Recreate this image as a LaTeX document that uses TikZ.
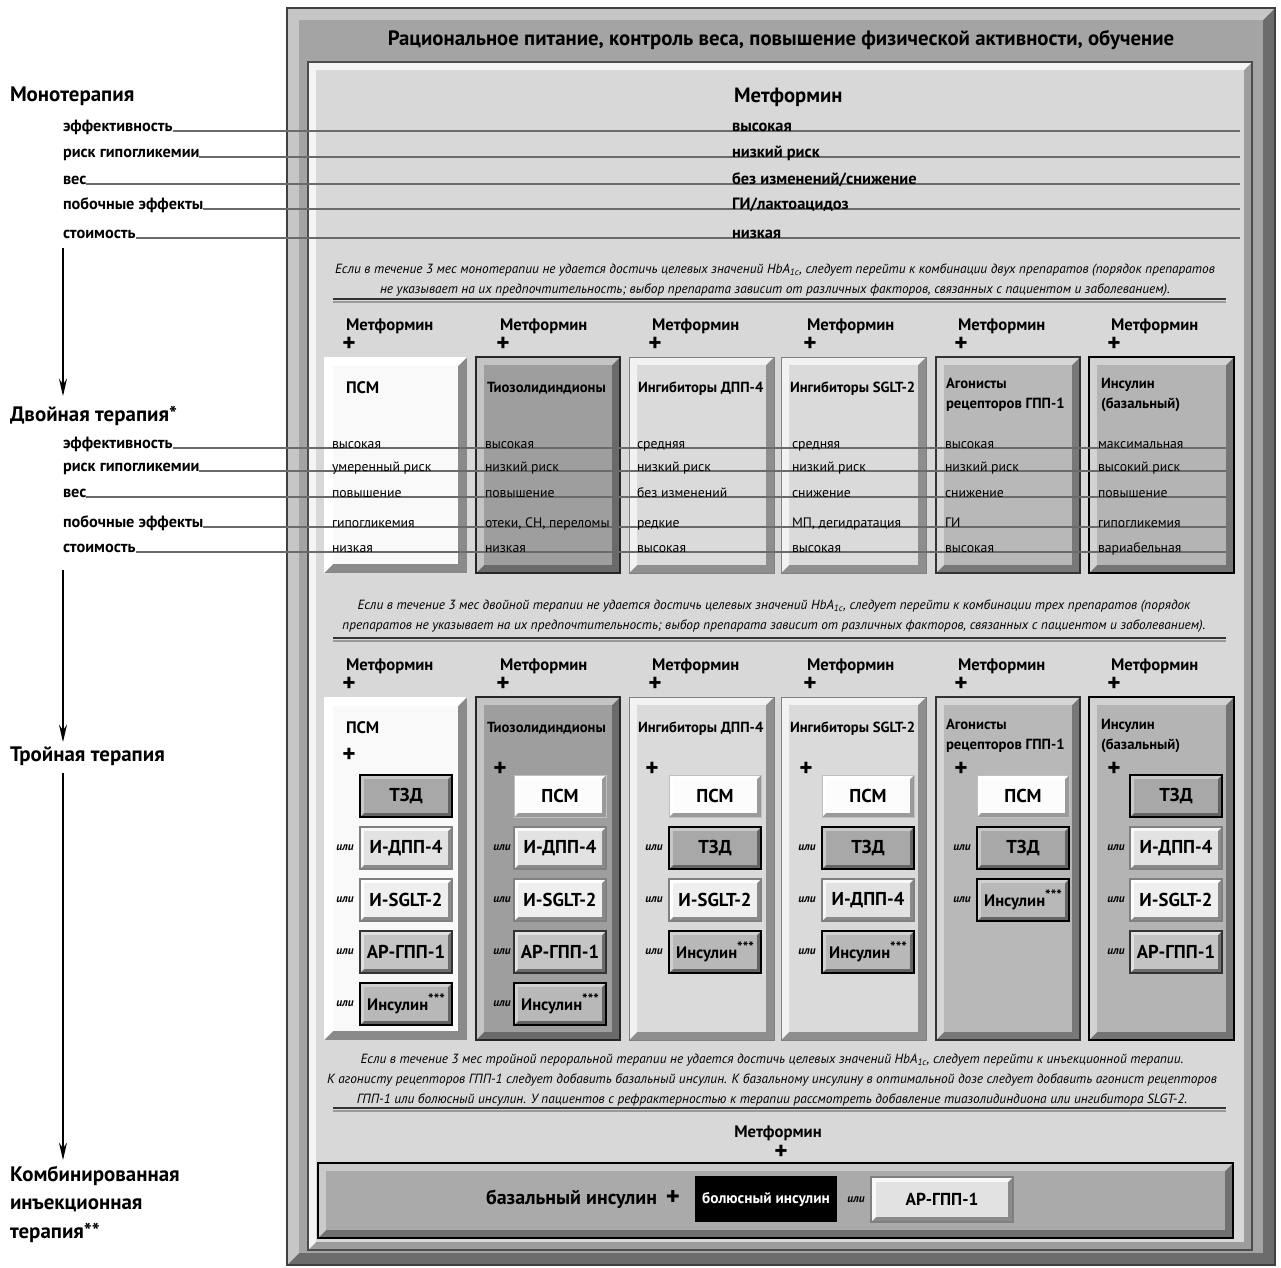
\documentclass[tikz,border=0pt]{standalone}
\usepackage{fontspec}
\setmainfont{PT Sans}
\usetikzlibrary{arrows.meta}
\pgfdeclarelayer{bg}
\pgfdeclarelayer{mid}
\pgfsetlayers{bg,mid,main}
% colour sets: B base, L light bevel, D dark bevel
\definecolor{frmB}{HTML}{A4A4A4}\definecolor{frmL}{HTML}{C6C6C6}\definecolor{frmD}{HTML}{6C6C6C}
\definecolor{panB}{HTML}{D8D8D8}\definecolor{panL}{HTML}{F4F4F4}\definecolor{panD}{HTML}{9C9C9C}
\definecolor{bpsmB}{HTML}{F9F9F9}\definecolor{bpsmL}{HTML}{FFFFFF}\definecolor{bpsmD}{HTML}{8A8A8A}
\definecolor{btzdB}{HTML}{9E9E9E}\definecolor{btzdL}{HTML}{C4C4C4}\definecolor{btzdD}{HTML}{6A6A6A}
\definecolor{bdppB}{HTML}{DADADA}\definecolor{bdppL}{HTML}{F2F2F2}\definecolor{bdppD}{HTML}{8E8E8E}
\definecolor{bglpB}{HTML}{B8B8B8}\definecolor{bglpL}{HTML}{D6D6D6}\definecolor{bglpD}{HTML}{787878}
\definecolor{binsB}{HTML}{B4B4B4}\definecolor{binsL}{HTML}{D2D2D2}\definecolor{binsD}{HTML}{747474}
\definecolor{botB}{HTML}{AAAAAA}\definecolor{botL}{HTML}{CACACA}\definecolor{botD}{HTML}{707070}
\definecolor{stzdB}{HTML}{A8A8A8}\definecolor{stzdL}{HTML}{C8C8C8}\definecolor{stzdD}{HTML}{646464}
\definecolor{spsmB}{HTML}{FCFCFC}\definecolor{spsmL}{HTML}{FFFFFF}\definecolor{spsmD}{HTML}{9A9A9A}
\definecolor{sdppB}{HTML}{E2E2E2}\definecolor{sdppL}{HTML}{F8F8F8}\definecolor{sdppD}{HTML}{8A8A8A}
\definecolor{ssglB}{HTML}{EFEFEF}\definecolor{ssglL}{HTML}{FFFFFF}\definecolor{ssglD}{HTML}{8A8A8A}
\definecolor{sglpB}{HTML}{C4C4C4}\definecolor{sglpL}{HTML}{E0E0E0}\definecolor{sglpD}{HTML}{6C6C6C}
\definecolor{sinsB}{HTML}{B8B8B8}\definecolor{sinsL}{HTML}{D0D0D0}\definecolor{sinsD}{HTML}{646464}
\definecolor{lineC}{HTML}{6A6A6A}
\tikzset{
  frmE/.style={draw=black!75,line width=1.2pt},
  panE/.style={draw=black!70,line width=1pt},
  bpsmE/.style={draw=none},
  btzdE/.style={draw=black!85,line width=1.6pt},
  bdppE/.style={draw=black!50,line width=0.7pt},
  bglpE/.style={draw=black!80,line width=1.6pt},
  binsE/.style={draw=black,line width=2pt},
  botE/.style={draw=black,line width=2pt},
  stzdE/.style={draw=black,line width=1.6pt},
  spsmE/.style={draw=black!25,line width=0.4pt},
  sdppE/.style={draw=black!50,line width=0.8pt},
  ssglE/.style={draw=black!50,line width=0.8pt},
  sglpE/.style={draw=black!80,line width=1.2pt},
  sinsE/.style={draw=black,line width=1.6pt}
}
\newcommand\mybev[6]{%
  \fill[#6D] ({#1},{#2}) rectangle ({#3},{#4});%
  \fill[#6L] ({#1},{#2}) -- ({#3},{#2}) -- ({#3-#5},{#2+#5}) -- ({#1+#5},{#2+#5}) -- ({#1+#5},{#4-#5}) -- ({#1},{#4}) -- cycle;%
  \fill[#6B] ({#1+#5},{#2+#5}) rectangle ({#3-#5},{#4-#5});%
  \draw[#6E] ({#1},{#2}) rectangle ({#3},{#4});}
\newcommand\mysub[5]{%
  \begin{pgfonlayer}{bg}\mybev{#3-46}{#4-21}{#3+46}{#4+21}{4}{#2}\end{pgfonlayer}%
  \node[sbt] (#1) at (#3,#4) {#5};}
\newcommand\myili[3]{\node[ili] (#1) at (#2,#3) {или};}
\newcommand\myvals[7]{%
  \node[bval] (v#1a) at (#2,448) {#3};%
  \node[bval] (v#1b) at (#2,471) {#4};%
  \node[bval] (v#1c) at (#2,497) {#5};%
  \node[bval] (v#1d) at (#2,527) {#6};%
  \node[bval] (v#1e) at (#2,552) {#7};}
\newcommand\myins{{\fontsize{12.5}{12}\selectfont Инсулин\raisebox{0.38em}{\fontsize{11}{11}\selectfont ***}}}
\begin{document}
\begin{tikzpicture}[x=0.75pt,y=-0.75pt,
  every node/.style={inner sep=0pt,outer sep=0pt},
  hdr/.style={font=\fontsize{15.6}{18}\selectfont\bfseries},
  big/.style={font=\fontsize{15.7}{18}\selectfont\bfseries,anchor=base west},
  sub/.style={font=\fontsize{12.2}{14}\selectfont\bfseries,anchor=base west},
  mmet/.style={font=\fontsize{15.5}{18}\selectfont\bfseries,anchor=base west},
  mval/.style={font=\fontsize{12.3}{14}\selectfont\bfseries,anchor=base west},
  par/.style={font=\fontsize{10}{15}\selectfont\itshape,align=center},
  colm/.style={font=\fontsize{12.5}{14}\selectfont\bfseries,anchor=base west},
  plus/.style={font=\fontsize{19}{19}\selectfont\bfseries},
  ttl/.style={font=\fontsize{11}{13}\selectfont\bfseries,anchor=base west},
  ttlp/.style={font=\fontsize{12.5}{14}\selectfont\bfseries,anchor=base west},
  bval/.style={font=\fontsize{10.3}{12}\selectfont,anchor=base west},
  sbt/.style={font=\fontsize{14}{16}\selectfont\bfseries},
  ili/.style={font=\fontsize{8.5}{9}\selectfont\bfseries\itshape},
  botx/.style={font=\fontsize{15}{17}\selectfont\bfseries},
  blk/.style={fill=black,text=white,font=\fontsize{11.5}{13}\selectfont\bfseries,minimum width=107pt,minimum height=34pt},
  pl/.style={draw=lineC,line width=0.8pt},
  rule/.style={draw=black!80,line width=2pt},
  ruleS/.style={draw=black!40,line width=1pt},
  arr/.style={draw=black,line width=1pt,-{Stealth[length=13pt,width=6pt]}}]
\useasboundingbox (0,0) rectangle (1281,1267);
\begin{pgfonlayer}{bg}
\fill[white] (0,0) rectangle (1281,1267);
% frame and panel
\mybev{287}{8}{1275}{1265}{12}{frm}
\mybev{308}{62}{1252}{1250}{8}{pan}
% dual boxes
\mybev{324}{357}{467}{573}{9}{bpsm}
\mybev{476}{357}{620}{573}{8}{btzd}
\mybev{629}{357}{774}{573}{8}{bdpp}
\mybev{781}{357}{926}{573}{8}{bdpp}
\mybev{936}{357}{1080}{573}{8}{bglp}
\mybev{1089}{357}{1234}{573}{8}{bins}
% triple boxes
\mybev{324}{697}{467}{1040}{9}{bpsm}
\mybev{476}{697}{620}{1040}{8}{btzd}
\mybev{629}{697}{774}{1040}{8}{bdpp}
\mybev{781}{697}{926}{1040}{8}{bdpp}
\mybev{936}{697}{1080}{1040}{8}{bglp}
\mybev{1089}{697}{1234}{1040}{8}{bins}
% bottom box
\mybev{318}{1163}{1233}{1238}{8}{bot}
\mybev{871}{1177}{1013}{1222}{5}{sdpp}
% rules
\draw[ruleS] (333,302) -- (1226,302);
\draw[rule] (333,299) -- (1226,299);
\draw[ruleS] (333,641) -- (1226,641);
\draw[rule] (333,638) -- (1226,638);
\draw[ruleS] (333,1111) -- (1226,1111);
\draw[rule] (333,1108) -- (1226,1108);
\end{pgfonlayer}

% header
\node[hdr] (hdr) at (781,40) {Рациональное питание, контроль веса, повышение физической активности, обучение};

% left labels
\node[big] (mono) at (10,101) {Монотерапия};
\node[sub] (m1) at (63,131) {эффективность};
\node[sub] (m2) at (63,157) {риск гипогликемии};
\node[sub] (m3) at (63,184) {вес};
\node[sub] (m4) at (63,209) {побочные эффекты};
\node[sub] (m5) at (63,238) {стоимость};
\node[big] (dual) at (10,421) {Двойная терапия*};
\node[sub] (d1) at (63,448) {эффективность};
\node[sub] (d2) at (63,471) {риск гипогликемии};
\node[sub] (d3) at (63,497) {вес};
\node[sub] (d4) at (63,527) {побочные эффекты};
\node[sub] (d5) at (63,552) {стоимость};
\node[big] (triple) at (10,761) {Тройная терапия};
\node[big] (comb1) at (10,1181) {Комбинированная};
\node[big] (comb2) at (10,1209) {инъекционная};
\node[big] (comb3) at (10,1238) {терапия**};

% arrows
\coordinate (a1s) at (63,248); \coordinate (a1e) at (63,396);
\coordinate (a2s) at (63,570); \coordinate (a2e) at (63,742);
\coordinate (a3s) at (63,773); \coordinate (a3e) at (63,1160);
\draw[arr] (a1s) -- (a1e);
\draw[arr] (a2s) -- (a2e);
\draw[arr] (a3s) -- (a3e);

% monotherapy
\node[mmet] (mmet) at (734,102) {Метформин};
\node[mval] (mv1) at (732,131) {высокая};
\node[mval] (mv2) at (732,157) {низкий риск};
\node[mval] (mv3) at (732,184) {без изменений/снижение};
\node[mval] (mv4) at (732,209) {ГИ/лактоацидоз};
\node[mval] (mv5) at (732,238) {низкая};

% property lines
\coordinate (mend) at (1240,0);
\coordinate (dend) at (1226,0);
\begin{pgfonlayer}{mid}
\foreach \n in {m1,m2,m3,m4,m5} {\draw[pl] (\n.base east) -- (\n.base east -| mend);}
\foreach \n in {d1,d2,d3,d4,d5} {\draw[pl] (\n.base east) -- (\n.base east -| dend);}
\end{pgfonlayer}

% paragraphs
\node[par] (p1) at (775,280) {Если в течение 3 мес монотерапии не удается достичь целевых значений HbA\textsubscript{1c}, следует перейти к комбинации двух препаратов (порядок препаратов\\не указывает на их предпочтительность; выбор препарата зависит от различных факторов, связанных с пациентом и заболеванием).};
\node[par] (p2) at (774,616) {Если в течение 3 мес двойной терапии не удается достичь целевых значений HbA\textsubscript{1c}, следует перейти к комбинации трех препаратов (порядок\\препаратов не указывает на их предпочтительность; выбор препарата зависит от различных факторов, связанных с пациентом и заболеванием).};
\node[par] (p3) at (772,1080) {Если в течение 3 мес тройной пероральной терапии не удается достичь целевых значений HbA\textsubscript{1c}, следует перейти к инъекционной терапии.\\К агонисту рецепторов ГПП-1 следует добавить базальный инсулин. К базальному инсулину в оптимальной дозе следует добавить агонист рецепторов\\ГПП-1 или болюсный инсулин. У пациентов с рефрактерностью к терапии рассмотреть добавление тиазолидиндиона или ингибитора SLGT-2.};

% column headers
\foreach \i/\x in {1/346,2/500,3/652,4/807,5/958,6/1111} {
  \node[colm] (dm\i) at (\x,330) {Метформин};
  \node[plus] (dp\i) at (\x+3,344) {+};
  \node[colm] (tm\i) at (\x,670) {Метформин};
  \node[plus] (tp\i) at (\x+3,684) {+};
}

% dual titles
\node[ttlp] (dt1) at (346,393) {ПСМ};
\node[ttl] (dt2) at (487,392) {Тиозолидиндионы};
\node[ttl] (dt3) at (638,392) {Ингибиторы ДПП-4};
\node[ttl] (dt4) at (790,392) {Ингибиторы SGLT-2};
\node[ttl] (dt5a) at (946,388) {Агонисты};
\node[ttl] (dt5b) at (946,408) {рецепторов ГПП-1};
\node[ttl] (dt6a) at (1101,388) {Инсулин};
\node[ttl] (dt6b) at (1101,408) {(базальный)};

% dual values
\myvals{1}{332}{высокая}{умеренный риск}{повышение}{гипогликемия}{низкая}
\myvals{2}{485}{высокая}{низкий риск}{повышение}{отеки, СН, переломы}{низкая}
\myvals{3}{637}{средняя}{низкий риск}{без изменений}{редкие}{высокая}
\myvals{4}{792}{средняя}{низкий риск}{снижение}{МП, дегидратация}{высокая}
\myvals{5}{945}{высокая}{низкий риск}{снижение}{ГИ}{высокая}
\myvals{6}{1098}{максимальная}{высокий риск}{повышение}{гипогликемия}{вариабельная}

% triple titles
\node[ttlp] (tt1) at (346,733) {ПСМ};
\node[ttl] (tt2) at (487,732) {Тиозолидиндионы};
\node[ttl] (tt3) at (638,732) {Ингибиторы ДПП-4};
\node[ttl] (tt4) at (790,732) {Ингибиторы SGLT-2};
\node[ttl] (tt5a) at (946,729) {Агонисты};
\node[ttl] (tt5b) at (946,749) {рецепторов ГПП-1};
\node[ttl] (tt6a) at (1101,729) {Инсулин};
\node[ttl] (tt6b) at (1101,749) {(базальный)};
\node[plus] (tq1) at (349,755) {+};
\node[plus] (tq2) at (500,769) {+};
\node[plus] (tq3) at (652,769) {+};
\node[plus] (tq4) at (806,769) {+};
\node[plus] (tq5) at (961,769) {+};
\node[plus] (tq6) at (1114,769) {+};

% triple sub-boxes
\mysub{s11}{stzd}{406}{796}{ТЗД}
\mysub{s12}{sdpp}{406}{848}{И-ДПП-4}
\mysub{s13}{ssgl}{406}{900}{И-SGLT-2}
\mysub{s14}{sglp}{406}{952}{АР-ГПП-1}
\mysub{s15}{sins}{406}{1004}{\myins}
\myili{i12}{345}{848}\myili{i13}{345}{900}\myili{i14}{345}{952}\myili{i15}{345}{1004}

\mysub{s21}{spsm}{560}{796}{ПСМ}
\mysub{s22}{sdpp}{560}{848}{И-ДПП-4}
\mysub{s23}{ssgl}{560}{900}{И-SGLT-2}
\mysub{s24}{sglp}{560}{952}{АР-ГПП-1}
\mysub{s25}{sins}{560}{1004}{\myins}
\myili{i22}{502}{848}\myili{i23}{502}{900}\myili{i24}{502}{952}\myili{i25}{502}{1004}

\mysub{s31}{spsm}{715}{796}{ПСМ}
\mysub{s32}{stzd}{715}{848}{ТЗД}
\mysub{s33}{ssgl}{715}{900}{И-SGLT-2}
\mysub{s34}{sins}{715}{952}{\myins}
\myili{i32}{654}{848}\myili{i33}{654}{900}\myili{i34}{654}{952}

\mysub{s41}{spsm}{868}{796}{ПСМ}
\mysub{s42}{stzd}{868}{848}{ТЗД}
\mysub{s43}{sdpp}{868}{900}{И-ДПП-4}
\mysub{s44}{sins}{868}{952}{\myins}
\myili{i42}{807}{848}\myili{i43}{807}{900}\myili{i44}{807}{952}

\mysub{s51}{spsm}{1023}{796}{ПСМ}
\mysub{s52}{stzd}{1023}{848}{ТЗД}
\mysub{s53}{sins}{1023}{900}{\myins}
\myili{i52}{962}{848}\myili{i53}{962}{900}

\mysub{s61}{stzd}{1176}{796}{ТЗД}
\mysub{s62}{sdpp}{1176}{848}{И-ДПП-4}
\mysub{s63}{ssgl}{1176}{900}{И-SGLT-2}
\mysub{s64}{sglp}{1176}{952}{АР-ГПП-1}
\myili{i62}{1116}{848}\myili{i63}{1116}{900}\myili{i64}{1116}{952}

% combined injection therapy
\node[colm,anchor=base] (bm) at (778,1137) {Метформин};
\node[plus] (bp) at (781,1152) {+};
\node[botx,anchor=east] (bas) at (657,1199) {базальный инсулин};
\node[plus,font=\fontsize{20}{20}\selectfont\bfseries] (bpl) at (673,1198) {+};
\node[blk] (bol) at (766,1199) {болюсный инсулин};
\node[ili] (bili) at (856,1200) {или};
\node[font=\fontsize{13}{14}\selectfont\bfseries] (bar) at (942,1199) {АР-ГПП-1};
\end{tikzpicture}
\end{document}
